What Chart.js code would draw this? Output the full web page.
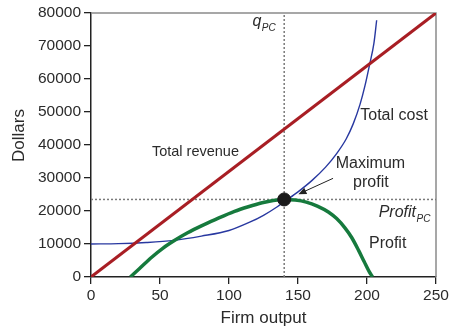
<!DOCTYPE html>
<html>
<head>
<meta charset="utf-8">
<script src="https://cdn.jsdelivr.net/npm/chart.js@4/dist/chart.umd.min.js"></script>
<style>
  html, body { margin: 0; padding: 0; background: #ffffff; }
  #wrap { width: 454px; height: 330px; }
</style>
</head>
<body>
<div id="wrap"><canvas id="c" width="454" height="330"></canvas></div>
<script>
// ---- Data ----
const revenueOutput = [0, 250];
const totalRevenue  = [0, 80000];

const costOutput = [0, 20, 40, 60, 80, 100, 115, 125, 135, 140, 150, 160, 170, 178, 185, 190, 195, 198.5, 202, 205, 207];
const totalCost  = [10000, 10100, 10450, 11100, 12400, 14100, 16600, 18700, 21300, 22800, 25800, 29200, 33300, 37400, 41900, 46400, 52400, 57900, 64600, 70800, 77800];

const profitOutput = [28.5, 35, 44, 52, 61, 70, 80, 90, 104, 114, 124, 132, 140, 148, 156, 164, 172, 178, 184, 189, 194, 198, 201.5, 204];
const profitValues = [0, 2500, 6000, 8700, 11200, 13400, 15500, 17400, 19900, 21300, 22500, 23200, 23500, 23300, 22700, 21500, 19700, 17700, 14900, 11900, 8000, 4600, 1700, 0];

const qPC = 140;
const profitPC = 23500;

const xTickValues = [0, 50, 100, 150, 200, 250];
const yTickValues = [0, 10000, 20000, 30000, 40000, 50000, 60000, 70000, 80000];

// ---- helpers ----
const pts = (xs, ys) => xs.map((x, i) => ({ x: x, y: ys[i] }));
const TEXT = '#2b2b2b';
const FONT = '"Liberation Sans", Arial, Helvetica, sans-serif';

const annotationPlugin = {
  id: 'annotations',
  beforeDatasetsDraw(chart) {
    const { ctx, chartArea: a } = chart;
    ctx.save();
    ctx.strokeStyle = '#8a8a8a';
    ctx.lineWidth = 1.5;
    ctx.beginPath();
    ctx.moveTo(a.left, a.top);
    ctx.lineTo(a.right, a.top);
    ctx.lineTo(a.right, a.bottom);
    ctx.stroke();
    ctx.restore();
  },
  afterDatasetsDraw(chart) {
    const { ctx } = chart;
    const xs = chart.scales.x, ys = chart.scales.y;
    const X = v => xs.getPixelForValue(v);
    const Y = v => ys.getPixelForValue(v);
    ctx.save();
    ctx.fillStyle = TEXT;
    ctx.textBaseline = 'middle';

    function text(str, qx, vy, size, align, italic) {
      ctx.font = (italic ? 'italic ' : '') + size + 'px ' + FONT;
      ctx.textAlign = align;
      ctx.fillText(str, X(qx), Y(vy));
    }
    function subText(main, sub, qx, vy, size, align) {
      ctx.font = 'italic ' + size + 'px ' + FONT;
      const w1 = ctx.measureText(main).width;
      ctx.font = 'italic ' + Math.round(size * 0.62) + 'px ' + FONT;
      const w2 = ctx.measureText(sub).width;
      let x0 = X(qx);
      if (align === 'right') x0 -= (w1 + w2);
      const y0 = Y(vy);
      ctx.textAlign = 'left';
      ctx.font = 'italic ' + size + 'px ' + FONT;
      ctx.fillText(main, x0, y0);
      ctx.font = 'italic ' + Math.round(size * 0.62) + 'px ' + FONT;
      ctx.fillText(sub, x0 + w1 + 0.5, y0 + size * 0.38);
    }

    subText('q', 'PC', 117, 77300, 16, 'left');
    text('Total revenue', 75.7, 37800, 14.5, 'center', false);
    text('Total cost', 219.6, 49000, 16, 'center', false);
    text('Maximum', 202.5, 34400, 16, 'center', false);
    text('profit', 202.8, 28700, 16, 'center', false);
    subText('Profit', 'PC', 245.6, 19400, 16, 'right');
    text('Profit', 215, 10200, 16, 'center', false);

    // arrow pointing to maximum profit
    const x1 = X(175.4), y1 = Y(29900), x2 = X(150.3), y2 = Y(25100);
    const ang = Math.atan2(y2 - y1, x2 - x1);
    ctx.strokeStyle = '#222';
    ctx.fillStyle = '#222';
    ctx.lineWidth = 1;
    ctx.beginPath();
    ctx.moveTo(x1, y1);
    ctx.lineTo(x2 - 5 * Math.cos(ang), y2 - 5 * Math.sin(ang));
    ctx.stroke();
    ctx.beginPath();
    ctx.moveTo(x2, y2);
    ctx.lineTo(x2 - 8 * Math.cos(ang) + 3.5 * Math.sin(ang), y2 - 8 * Math.sin(ang) - 3.5 * Math.cos(ang));
    ctx.lineTo(x2 - 8 * Math.cos(ang) - 3.5 * Math.sin(ang), y2 - 8 * Math.sin(ang) + 3.5 * Math.cos(ang));
    ctx.closePath();
    ctx.fill();
    ctx.restore();
  }
};

new Chart(document.getElementById('c'), {
  type: 'scatter',
  data: {
    datasets: [
      {
        label: 'Maximum profit',
        data: [{ x: qPC, y: profitPC }],
        pointRadius: 6.5,
        pointBackgroundColor: '#1a1a1a',
        pointBorderColor: '#1a1a1a',
        showLine: false,
        order: 0
      },
      {
        label: 'Profit',
        data: pts(profitOutput, profitValues),
        showLine: true,
        borderColor: '#167a3d',
        borderWidth: 3.5,
        pointRadius: 0,
        cubicInterpolationMode: 'monotone',
        order: 1
      },
      {
        label: 'Total revenue',
        data: pts(revenueOutput, totalRevenue),
        showLine: true,
        borderColor: '#a81e24',
        borderWidth: 3,
        pointRadius: 0,
        order: 2
      },
      {
        label: 'Total cost',
        data: pts(costOutput, totalCost),
        showLine: true,
        borderColor: '#2838a0',
        borderWidth: 1.4,
        pointRadius: 0,
        cubicInterpolationMode: 'monotone',
        order: 3
      },
      {
        label: 'qPC',
        data: [{ x: qPC, y: yTickValues[0] }, { x: qPC, y: yTickValues[yTickValues.length - 1] }],
        showLine: true,
        borderColor: '#7a7a7a',
        borderWidth: 1.5,
        borderDash: [2, 2],
        pointRadius: 0,
        order: 4
      },
      {
        label: 'ProfitPC',
        data: [{ x: xTickValues[0], y: profitPC }, { x: xTickValues[xTickValues.length - 1], y: profitPC }],
        showLine: true,
        borderColor: '#7a7a7a',
        borderWidth: 1.5,
        borderDash: [2, 2],
        pointRadius: 0,
        order: 5
      }
    ]
  },
  options: {
    responsive: false,
    animation: false,
    devicePixelRatio: 1,
    layout: { padding: { top: 13, right: 18, left: 0, bottom: 0 } },
    plugins: { legend: { display: false }, tooltip: { enabled: false } },
    scales: {
      x: {
        type: 'linear',
        min: xTickValues[0],
        max: xTickValues[xTickValues.length - 1],
        afterBuildTicks: s => { s.ticks = xTickValues.map(v => ({ value: v })); },
        afterFit: s => { s.height = 53; },
        grid: { drawOnChartArea: false, drawTicks: true, tickLength: 7, color: '#222', lineWidth: 1.3 },
        border: { display: true, color: '#222', width: 1.5 },
        ticks: { color: TEXT, font: { family: FONT, size: 15.5 }, padding: 2, maxRotation: 0, callback: v => String(v) },
        title: { display: true, text: 'Firm output', color: TEXT, font: { family: FONT, size: 17 }, padding: { top: 0, bottom: 1 } }
      },
      y: {
        type: 'linear',
        min: yTickValues[0],
        max: yTickValues[yTickValues.length - 1],
        afterBuildTicks: s => { s.ticks = yTickValues.map(v => ({ value: v })); },
        afterFit: s => { s.width = 91; },
        grid: { drawOnChartArea: false, drawTicks: true, tickLength: 7, color: '#222', lineWidth: 1.3 },
        border: { display: true, color: '#222', width: 1.5 },
        ticks: { color: TEXT, font: { family: FONT, size: 15.5 }, padding: 3, callback: v => String(v) },
        title: { display: true, text: '    Dollars', color: TEXT, font: { family: FONT, size: 17 }, padding: { top: 9, bottom: 0 } }
      }
    }
  },
  plugins: [annotationPlugin]
});
</script>
</body>
</html>
